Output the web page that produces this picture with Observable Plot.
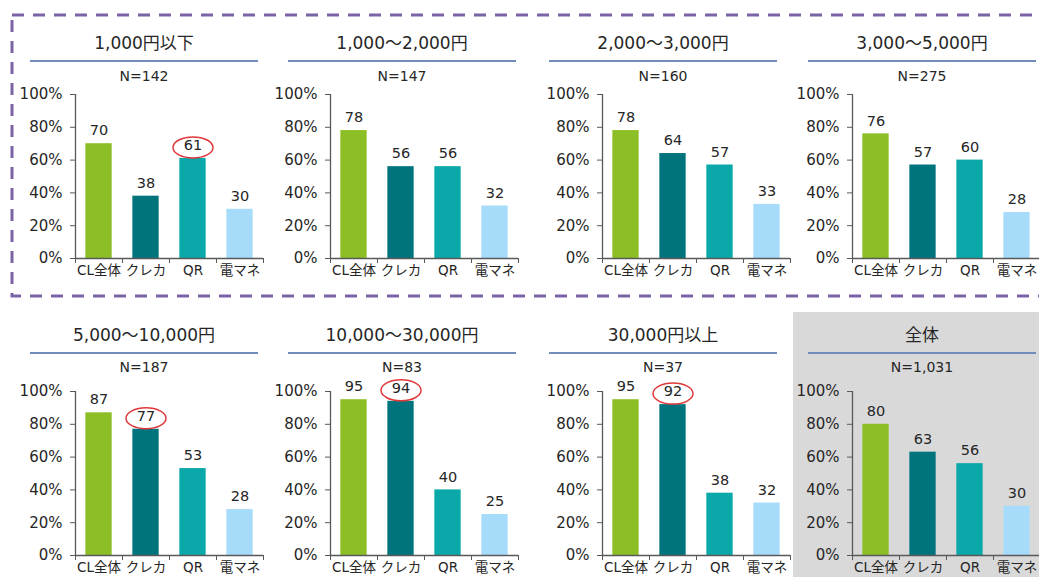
<!DOCTYPE html>
<html><head><meta charset="utf-8">
<script src="https://cdn.jsdelivr.net/npm/d3@7"></script>
<script src="https://cdn.jsdelivr.net/npm/@observablehq/plot@0.6"></script>
<style>
body{margin:0;background:#fff;width:1039px;height:577px;overflow:hidden;position:relative;font-family:"DejaVu Sans","Noto Sans CJK JP",sans-serif;color:#262626}
.abs{position:absolute}
.title{font-size:17px;text-align:center;width:228px;line-height:20px}
.rule{height:0;border-top:2px solid #6f8cba;width:228px}
.n{font-size:14px;text-align:center;width:228px;line-height:16px}
.bg{background:#d9d9d9}
</style></head><body>
<script>
// ---- data ----
const rangeLabels = ["1,000円以下","1,000～2,000円","2,000～3,000円","3,000～5,000円","5,000～10,000円","10,000～30,000円","30,000円以上","全体"];
const sampleN = [142,147,160,275,187,83,37,1031];
const methods = ["CL全体","クレカ","QR","電マネ"];
const clAll   = [70,78,78,76,87,95,95,80];
const credit  = [38,56,64,57,77,94,92,63];
const qr      = [61,56,57,60,53,40,38,56];
const emoney  = [30,32,33,28,28,25,32,30];
const yTicks  = [0,20,40,60,80,100];
const highlightPanel  = [0,4,5,6];
const highlightMethod = ["QR","クレカ","クレカ","クレカ"];

// ---- styles / layout ----
const colors = ["#8cbf26","#00747c","#0aa8a8","#a6dcfa"];
const series = [clAll, credit, qr, emoney];
const lineLeft = [30,288,549,808];
const axisLeft = [75,330,602,852];
const rowTitle = [43,335], rowLine = [61,353], rowN = [76,367], rowTop = [94,391];
const plotH = 164, mT = 22, mB = 30, mL = 62, mR = 20, plotW = 188;
const barInset = 0.22;
const font = '"DejaVu Sans","Noto Sans CJK JP",sans-serif';

const ellipse = {draw(ctx){
  const rx=20, ry=10.5, k=0.5523;
  ctx.moveTo(rx,0);
  ctx.bezierCurveTo(rx, ry*k, rx*k, ry, 0, ry);
  ctx.bezierCurveTo(-rx*k, ry, -rx, ry*k, -rx, 0);
  ctx.bezierCurveTo(-rx, -ry*k, -rx*k, -ry, 0, -ry);
  ctx.bezierCurveTo(rx*k, -ry, rx, -ry*k, rx, 0);
  ctx.closePath();
}};

// dashed border around top row
const ns = "http://www.w3.org/2000/svg";
const border = document.createElementNS(ns,"svg");
border.setAttribute("width",1039); border.setAttribute("height",577);
border.style.position="absolute"; border.style.left="0"; border.style.top="0";
border.innerHTML = '<rect x="12" y="15" width="1040" height="281" fill="none" stroke="#7b64a6" stroke-width="3" stroke-dasharray="12 9"/>';

// grey background for total panel
const bg = document.createElement("div");
bg.className="abs bg";
bg.style.left="793px"; bg.style.top="312px"; bg.style.width="260px"; bg.style.height="270px";
document.body.appendChild(bg);
document.body.appendChild(border);

function place(el, x, y){ el.style.left = x+"px"; el.style.top = y+"px"; document.body.appendChild(el); }

rangeLabels.forEach((label, p) => {
  const col = p % 4, row = Math.floor(p / 4);
  const t = document.createElement("div"); t.className="abs title"; t.textContent = label;
  place(t, lineLeft[col], rowTitle[row]-10);
  const r = document.createElement("div"); r.className="abs rule";
  place(r, lineLeft[col], rowLine[row]-1);
  const n = document.createElement("div"); n.className="abs n"; n.textContent = "N=" + d3.format(",")(sampleN[p]);
  place(n, lineLeft[col], rowN[row]-8);

  const data = methods.map((m, i) => ({m, i, v: series[i][p]}));
  const hl = data.filter(d => highlightPanel.some((hp, k) => hp === p && highlightMethod[k] === d.m));

  const chart = Plot.plot({
    width: mL + plotW + mR, height: mT + plotH + mB,
    marginLeft: mL, marginRight: mR, marginTop: mT, marginBottom: mB,
    x: {domain: [0, methods.length]},
    y: {domain: [0, 100]},
    color: {domain: methods, range: colors},
    style: {background: "transparent", fontFamily: font, fontSize: "14px", color: "#262626", overflow: "visible"},
    marks: [
      Plot.rectY(data, {x1: d => d.i + barInset, x2: d => d.i + 1 - barInset, y: "v", fill: "m"}),
      Plot.text(data, {x: d => d.i + 0.5, y: "v", text: d => String(d.v), dy: -13, fontSize: 14.5, fill: "#262626"}),
      Plot.dot(hl, {x: d => d.i + 0.5, y: "v", dy: -11, symbol: ellipse, stroke: "#e0393b", strokeWidth: 1.5, fill: "none"}),
      Plot.axisY({ticks: yTicks, tickFormat: d => d + "%", tickSize: 5, tickPadding: 8, fontSize: 15, stroke: "#595959", label: null}),
      Plot.axisX({ticks: d3.range(methods.length + 1), tickSize: 5, tickFormat: () => "", stroke: "#595959", label: null}),
      Plot.axisX({ticks: methods.map((m, i) => i + 0.5), tickSize: 0, tickPadding: 7, tickFormat: v => methods[Math.floor(v)], fontSize: 13.5, label: null}),
      Plot.ruleX([0], {stroke: "#595959", strokeWidth: 1.3}),
      Plot.ruleY([0], {stroke: "#595959", strokeWidth: 1.3})
    ]
  });
  chart.style.position = "absolute";
  place(chart, axisLeft[col] - mL, rowTop[row] - mT);
});
</script>
</body></html>
